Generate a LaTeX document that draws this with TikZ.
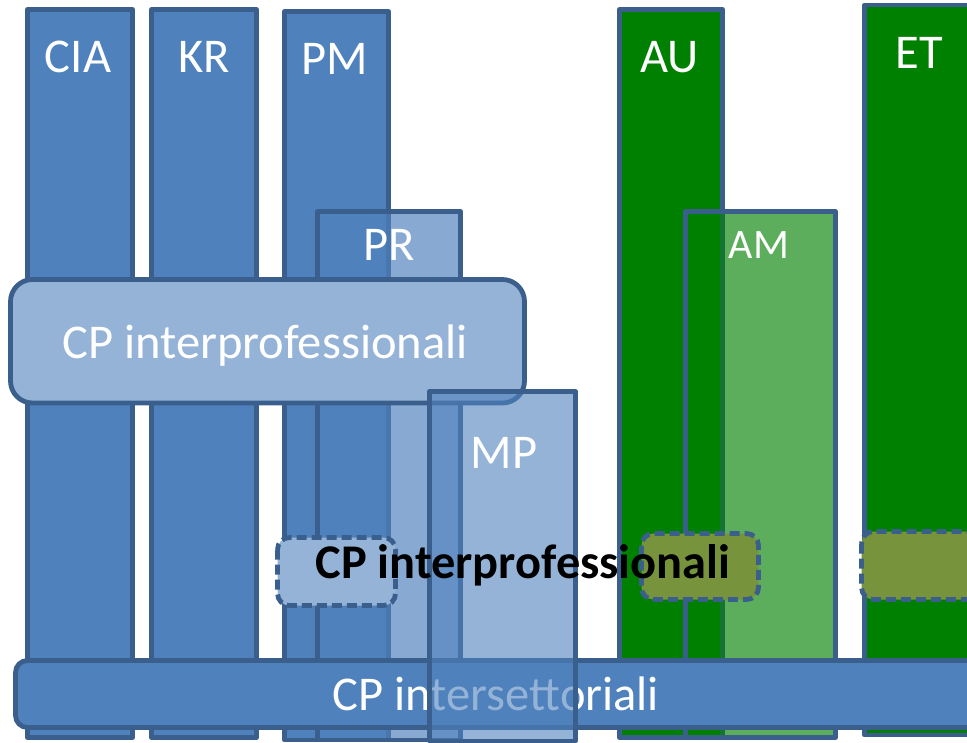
\documentclass[tikz,border=0pt]{standalone}
\usepackage{fontspec}
\setmainfont{Carlito}
\definecolor{fillblue}{HTML}{4F81BD}
\definecolor{edgeblue}{HTML}{3A5F8C}
\definecolor{paleblue}{HTML}{95B3D7}
\definecolor{fillgreen}{HTML}{008000}
\definecolor{olive}{HTML}{77933C}
\begin{document}
\begin{tikzpicture}[x=1pt,y=-1pt,
  box/.style={draw=edgeblue, line width=4.8pt, line join=round},
  bluecol/.style={box, fill=fillblue},
  greencol/.style={box, fill=fillgreen},
  glassblue/.style={box, fill=fillblue, fill opacity=0.68},
  glassblue2/.style={box, fill=fillblue, fill opacity=0.6},
  glassgreen/.style={box, fill=fillgreen, fill opacity=0.64},
  palebox/.style={box, fill=paleblue, rounded corners=22pt},
  barbox/.style={box, fill=fillblue, rounded corners=12pt},
  dashbox/.style={box, dash pattern=on 10pt off 5pt, rounded corners=12pt},
  lbl/.style={text=white, anchor=base, inner sep=0pt, font=\fontsize{48.5}{54}\selectfont},
  smalllbl/.style={lbl, font=\fontsize{42}{48}\selectfont},
  boldlbl/.style={text=black, anchor=base, inner sep=0pt, font=\fontsize{48.4}{54}\selectfont\bfseries}]
\useasboundingbox (0,0) rectangle (967,742);
\clip (0,0) rectangle (967,742);

% sector columns
\draw[bluecol] (27.5,9.5) rectangle (132.5,737.5);
\draw[bluecol] (151.5,9.5) rectangle (256.5,737.5);
\draw[bluecol] (284.5,11.5) rectangle (388.5,740);
\draw[greencol] (619.5,9.5) rectangle (722.5,737.5);
\draw[greencol] (864.5,5) rectangle (1000,735);
\node[lbl] (cia) at (78,72) {CIA};
\node[lbl] (kr) at (204.5,72) {KR};
\node[lbl] (pm) at (334.5,74) {PM};
\node[lbl] (au) at (669.5,72) {AU};
\node[lbl] (et) at (919.5,68) {ET};

% translucent sub-columns
\draw[glassblue] (317.5,211.5) rectangle (460.5,740);
\node[lbl] (pr) at (389,260) {PR};
\draw[glassgreen] (685.5,211.5) rectangle (835.5,737.5);
\node[smalllbl] (am) at (759,258) {AM};

% interprofessional group
\draw[palebox] (10.5,279.5) rectangle (524.5,403);
\node[lbl] (interprof) at (265,358) {CP interprofessionali};

% intersectoral bar
\draw[barbox] (15.5,660.5) rectangle (1000,727.5);
\node[lbl] (intersett) at (496,710) {CP intersettoriali};

% translucent column on top
\draw[glassblue2] (429.5,391.5) rectangle (575.5,741);
\node[lbl] (mp) at (504,468) {MP};

% dashed group boxes
\draw[dashbox, fill=paleblue] (277.5,537.5) rectangle (395.5,605.5);
\draw[dashbox, fill=olive] (641.5,533.5) rectangle (758.5,599.5);
\draw[dashbox, fill=olive] (861.5,531.5) rectangle (1000,599.5);
\node[boldlbl] (interprofbold) at (523,578) {CP interprofessionali};
\end{tikzpicture}
\end{document}
